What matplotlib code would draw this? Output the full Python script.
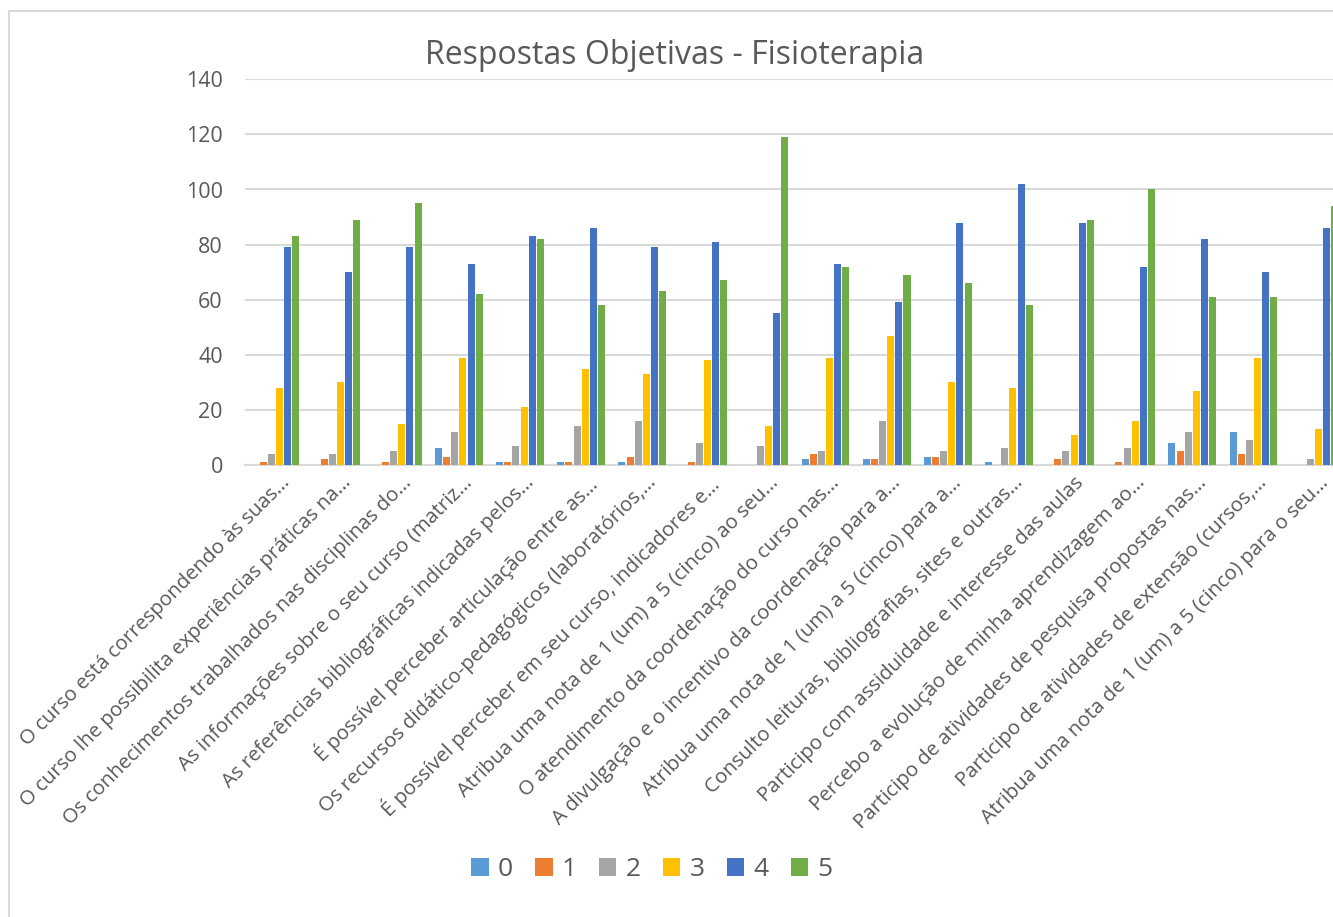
import numpy as np
import matplotlib
matplotlib.use('Agg')
import matplotlib.pyplot as plt
from matplotlib.patches import Rectangle
from matplotlib.transforms import ScaledTranslation

plt.rcParams['font.family'] = ['Open Sans', 'DejaVu Sans']

# category labels (truncated as in the original sheet)
questions = [
    'O curso está correspondendo às suas…',
    'O curso lhe possibilita experiências práticas na…',
    'Os conhecimentos trabalhados nas disciplinas do…',
    'As informações sobre o seu curso (matriz…',
    'As referências bibliográficas indicadas pelos…',
    'É possível perceber articulação entre as…',
    'Os recursos didático-pedagógicos (laboratórios,…',
    'É possível perceber em seu curso, indicadores e…',
    'Atribua uma nota de 1 (um) a 5 (cinco) ao seu…',
    'O atendimento da coordenação do curso nas…',
    'A divulgação e o incentivo da coordenação para a…',
    'Atribua uma nota de 1 (um) a 5 (cinco) para a…',
    'Consulto leituras, bibliografias, sites e outras…',
    'Participo com assiduidade e interesse das aulas',
    'Percebo a evolução de minha aprendizagem ao…',
    'Participo de atividades de pesquisa propostas nas…',
    'Participo de atividades de extensão (cursos,…',
    'Atribua uma nota de 1 (um) a 5 (cinco) para o seu…',
]

series_names = ['0', '1', '2', '3', '4', '5']
resp_0 = [0, 0, 0, 6, 1, 1, 1, 0, 0, 2, 2, 3, 1, 0, 0, 8, 12, 0]
resp_1 = [1, 2, 1, 3, 1, 1, 3, 1, 0, 4, 2, 3, 0, 2, 1, 5, 4, 0]
resp_2 = [4, 4, 5, 12, 7, 14, 16, 8, 7, 5, 16, 5, 6, 5, 6, 12, 9, 2]
resp_3 = [28, 30, 15, 39, 21, 35, 33, 38, 14, 39, 47, 30, 28, 11, 16, 27, 39, 13]
resp_4 = [79, 70, 79, 73, 83, 86, 79, 81, 55, 73, 59, 88, 102, 88, 72, 82, 70, 86]
resp_5 = [83, 89, 95, 62, 82, 58, 63, 67, 119, 72, 69, 66, 58, 89, 100, 61, 61, 94]
all_series = [resp_0, resp_1, resp_2, resp_3, resp_4, resp_5]

colors = ['#5B9BD5', '#ED7D31', '#A5A5A5', '#FFC000', '#4472C4', '#70AD47']
txt = '#595959'
grid_c = '#D9D9D9'

fig = plt.figure(figsize=(13.33, 9.17), dpi=100)

# chart frame (clipped at right/bottom like the screenshot)
fig.patches.append(Rectangle((9 / 1333, -0.2), 1.5, 1.2 - 11 / 917,
                             transform=fig.transFigure, fill=False,
                             edgecolor=grid_c, linewidth=1.5))

ax = fig.add_axes([245 / 1333, 1 - 465 / 917, 1100 / 1333, 385.7 / 917])

x = np.arange(len(questions))
step = 0.133
bw = 0.115
for i, vals in enumerate(all_series):
    ax.bar(x + (i - 2.5) * step, vals, width=bw, color=colors[i],
           label=series_names[i], zorder=3)

ax.set_xlim(-0.5, len(questions) - 0.5)
ax.set_ylim(0, 140)
ax.set_yticks(range(0, 141, 20))
ax.yaxis.grid(True, color=grid_c, linewidth=1.5, zorder=0)
ax.set_axisbelow(True)
for s in ['top', 'right', 'left']:
    ax.spines[s].set_visible(False)
ax.spines['bottom'].set_color(grid_c)
ax.spines['bottom'].set_linewidth(1.5)
ax.tick_params(axis='both', length=0, colors=txt, labelsize=15.5)
ax.tick_params(axis='y', pad=16)

ax.set_xticks(x)
ax.set_xticklabels(questions, rotation=45, ha='right', va='top',
                   rotation_mode='anchor', fontsize=14.7, color=txt)
off = ScaledTranslation(0.04, -0.03, fig.dpi_scale_trans)
for lbl in ax.get_xticklabels():
    lbl.set_transform(lbl.get_transform() + off)

fig.text(0.506, 1 - 56 / 917, 'Respostas Objetivas - Fisioterapia',
         ha='center', va='center', fontsize=23, color=txt)

leg = fig.legend(loc='center', bbox_to_anchor=(652 / 1333, 1 - 870 / 917),
                 ncol=6, frameon=False, fontsize=19, labelcolor=txt,
                 handlelength=0.65, handleheight=0.65, handletextpad=0.35,
                 columnspacing=0.85)

fig.savefig('out.png', dpi=100)
